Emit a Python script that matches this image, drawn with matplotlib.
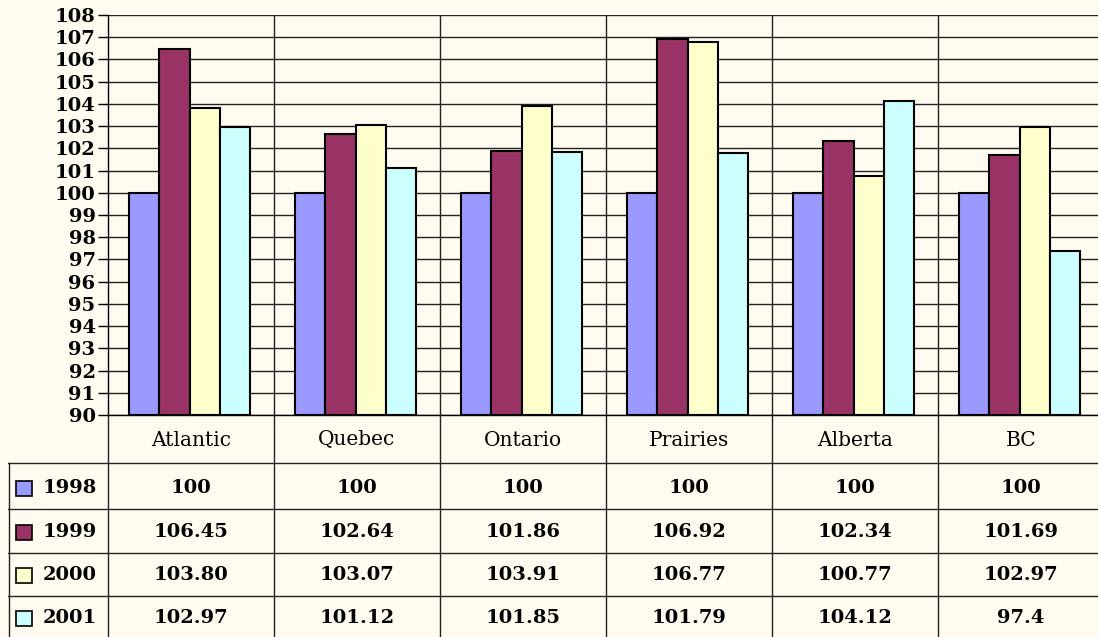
import numpy as np
import matplotlib
matplotlib.use("Agg")
import matplotlib.pyplot as plt
from matplotlib.patches import Rectangle

plt.rcParams['font.family'] = ['DejaVu Serif']

regions = ["Atlantic", "Quebec", "Ontario", "Prairies", "Alberta", "BC"]
years = ["1998", "1999", "2000", "2001"]
v1998 = [100, 100, 100, 100, 100, 100]
v1999 = [106.45, 102.64, 101.86, 106.92, 102.34, 101.69]
v2000 = [103.80, 103.07, 103.91, 106.77, 100.77, 102.97]
v2001 = [102.97, 101.12, 101.85, 101.79, 104.12, 97.4]
labels1998 = ["100", "100", "100", "100", "100", "100"]
labels1999 = ["106.45", "102.64", "101.86", "106.92", "102.34", "101.69"]
labels2000 = ["103.80", "103.07", "103.91", "106.77", "100.77", "102.97"]
labels2001 = ["102.97", "101.12", "101.85", "101.79", "104.12", "97.4"]
colors = ["#9999FF", "#993366", "#FFFFCC", "#CCFFFF"]

series = [v1998, v1999, v2000, v2001]
table_text = [labels1998, labels1999, labels2000, labels2001]

bg = "#FFFBF0"
W, H = 1098, 637
fig = plt.figure(figsize=(W / 100, H / 100), dpi=100, facecolor=bg)

# chart area (in pixel fractions)
ax = fig.add_axes([108 / W, (H - 415) / H, (1104 - 108) / W, (415 - 15) / H])
ax.set_facecolor(bg)
x = np.arange(len(regions))
w = 0.182
for i, vals in enumerate(series):
    ax.bar(x - 0.008 + (i - 1.5) * w, np.array(vals) - 90, w, bottom=90,
           color=colors[i], edgecolor="black", linewidth=1.5, zorder=3)

ax.set_xlim(-0.5, 5.5)
ax.set_ylim(90, 108)
ax.set_yticks(np.arange(90, 109, 1))
ax.set_xticks([])
lc = "#222222"
ax.yaxis.grid(True, color=lc, linewidth=1)
ax.set_axisbelow(True)
for b in np.arange(0.5, 5.5, 1):
    ax.axvline(b, color=lc, linewidth=1, zorder=1)
for s in ["top", "right"]:
    ax.spines[s].set_visible(False)
ax.spines["left"].set_linewidth(1)
ax.spines["bottom"].set_linewidth(1)
ax.tick_params(axis="y", length=7, width=1, labelsize=14, pad=2)
for t in ax.get_yticklabels():
    t.set_fontweight("bold")

# data table below
tax = fig.add_axes([8 / W, 0, (1104 - 8) / W, 222 / H])
tax.set_facecolor("none")
xl = -0.5 - 100 / 166
tax.set_xlim(xl, 5.5)
tax.set_ylim(222, 0)
tax.axis("off")

for k in range(7):
    tax.plot([k - 0.5, k - 0.5], [0, 222], color=lc, lw=1)
tax.plot([xl + 0.5 / 166, xl + 0.5 / 166], [48, 222], color=lc, lw=1)
row_lines = [48, 94, 138, 181]
for yl in row_lines:
    tax.plot([xl, 5.5], [yl, yl], color=lc, lw=1)

for j, r in enumerate(regions):
    tax.text(j, 25, r, ha="center", va="center", fontsize=14.5)

row_centers = [73, 117, 160, 203]
for i, yr in enumerate(years):
    yc = row_centers[i]
    tax.add_patch(Rectangle((xl + 8 / 166, yc - 7), 16 / 166, 15,
                            facecolor=colors[i], edgecolor="black", lw=1.2))
    tax.text(xl + 35 / 166, yc, yr, ha="left", va="center",
             fontsize=14, fontweight="bold")
    for j in range(len(regions)):
        tax.text(j, yc, table_text[i][j], ha="center", va="center",
                 fontsize=14, fontweight="bold")

fig.savefig("out.png", dpi=100, facecolor=bg)
